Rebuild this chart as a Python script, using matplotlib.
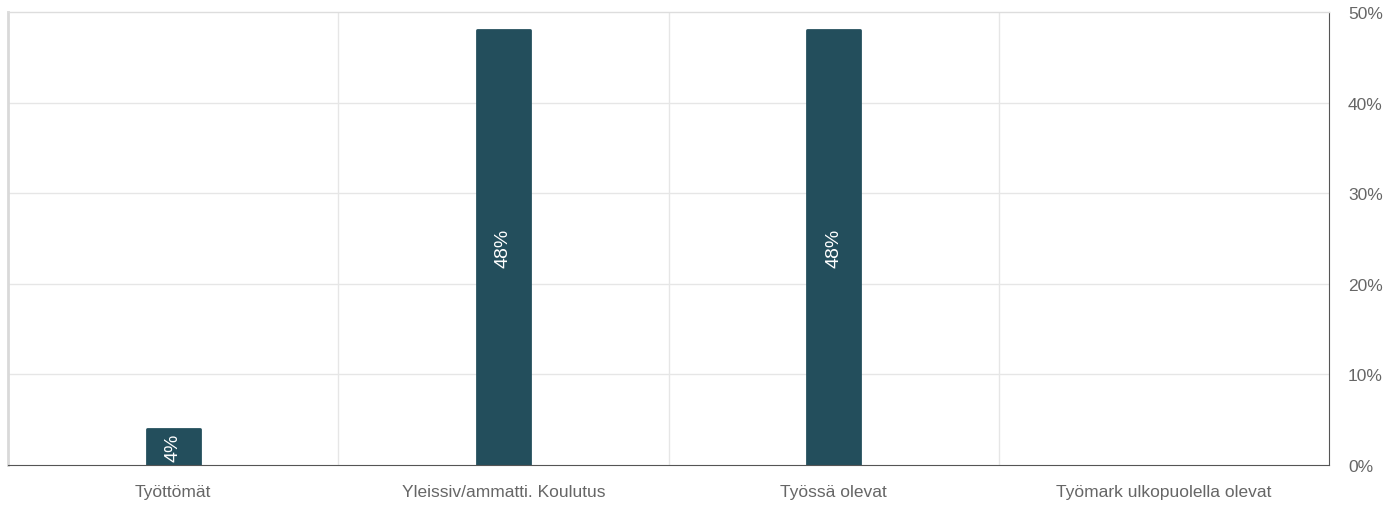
import matplotlib.pyplot as plt
from matplotlib.ticker import FuncFormatter

plt.rcParams['font.family'] = ['Liberation Sans', 'DejaVu Sans']

# data
categories = ["Työttömät", "Yleissiv/ammatti. Koulutus", "Työssä olevat", "Työmark ulkopuolella olevat"]
values = [4, 48, 48, 0]
y_ticks = [0, 10, 20, 30, 40, 50]

bar_color = "#234e5c"
grid_color = "#e6e6e6"
text_color = "#666666"

fig = plt.figure(figsize=(13.87, 5.10), dpi=100)
ax = fig.add_axes([0.0058, 0.0863, 0.9524, 0.8882])

x = range(len(categories))
# thin same-colour edge with round joins gives the slightly rounded tops
edge_w = [2 if v > 0 else 0 for v in values]
bars = ax.bar(x, values, width=0.16, color=bar_color, edgecolor=bar_color,
              linewidth=edge_w, joinstyle="round", zorder=3)

for b, v in zip(bars, values):
    if v > 0:
        ax.text(b.get_x() + b.get_width() / 2, v / 2, f"{v}%", rotation=90,
                ha="center", va="center", color="white", fontsize=14, zorder=4)

ax.set_xlim(-0.5, len(categories) - 0.5)
ax.set_ylim(0, 50)

# grid: horizontal at ticks, vertical between categories
ax.set_yticks(y_ticks)
for yt in y_ticks[1:-1]:
    ax.axhline(yt, color=grid_color, lw=1, zorder=1)
for xb in [0.5, 1.5, 2.5]:
    ax.axvline(xb, color=grid_color, lw=1, zorder=1)

ax.set_xticks(list(x))
ax.set_xticklabels(categories)
ax.yaxis.tick_right()
ax.yaxis.set_major_formatter(FuncFormatter(lambda v, p: f"{int(v)}%"))
ax.tick_params(axis="both", length=0, colors=text_color, labelsize=12.5)
ax.tick_params(axis="x", pad=14)
ax.tick_params(axis="y", pad=13.7)
for lbl in ax.get_yticklabels():
    lbl.set_horizontalalignment("left")

ax.spines["left"].set_color("#d9d9d9")
ax.spines["left"].set_linewidth(2)
ax.spines["top"].set_color("#dddddd")
ax.spines["top"].set_linewidth(1)
ax.spines["right"].set_color("#555555")
ax.spines["bottom"].set_color("#555555")
ax.spines["bottom"].set_zorder(5)

fig.savefig("out.png", dpi=100)
